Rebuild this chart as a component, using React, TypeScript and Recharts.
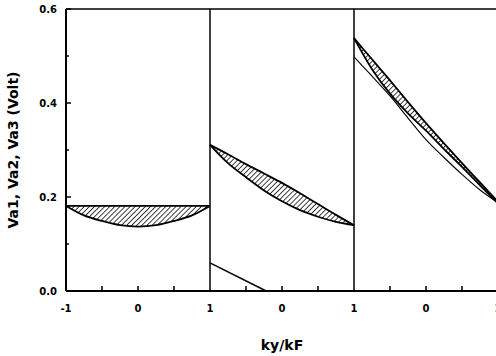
import { ComposedChart, Line, Area, XAxis, YAxis, ReferenceLine, Label } from "recharts";

// ky/kF sample points, shared by every panel
const ky = [-1, -0.75, -0.5, -0.25, 0, 0.25, 0.5, 0.75, 1];

// panel 1 (Va1)
const va1Top = [0.181, 0.181, 0.181, 0.181, 0.181, 0.181, 0.181, 0.181, 0.181];
const va1Bottom = [0.181, 0.161, 0.149, 0.14, 0.137, 0.14, 0.149, 0.161, 0.181];

// panel 2 (Va2)
const va2Top = [0.311, 0.291, 0.27, 0.25, 0.23, 0.208, 0.185, 0.162, 0.14];
const va2Bottom = [0.311, 0.272, 0.242, 0.214, 0.191, 0.172, 0.158, 0.147, 0.14];
const va2LineKy = [-1, -0.22];
const va2Line = [0.06, 0];

// panel 3 (Va3)
const va3Top = [0.538, 0.493, 0.448, 0.402, 0.357, 0.314, 0.272, 0.231, 0.19];
const va3Bottom = [0.538, 0.472, 0.42, 0.378, 0.341, 0.302, 0.264, 0.225, 0.186];
const va3Thin = [0.498, 0.457, 0.415, 0.368, 0.322, 0.284, 0.248, 0.215, 0.188];

const yTicks = [0, 0.1, 0.2, 0.3, 0.4, 0.5, 0.6];
const xTicks = [-1, -0.5, 0, 0.5, 1, 1.5, 2, 2.5, 3, 3.5, 4, 4.5, 5];
const xTickLabels: Record<string, string> = { "-1": "-1", "0": "0", "1": "1", "2": "0", "3": "1", "4": "0", "5": "1" };

// each panel spans two units on the shared x axis
const band = (lo: number[], hi: number[], offset: number) =>
  ky.map((k, i) => ({ x: k + offset, range: [lo[i], hi[i]] }));
const line = (xs: number[], vals: number[], offset: number) =>
  xs.map((k, i) => ({ x: k + offset, v: vals[i] }));

const band1 = band(va1Bottom, va1Top, 0);
const band2 = band(va2Bottom, va2Top, 2);
const band3 = band(va3Bottom, va3Top, 4);
const line2 = line(va2LineKy, va2Line, 2);
const line3 = line(ky, va3Thin, 4);

const X_MARGIN = 14;
const Y_MARGIN = 9;

function XTick({ x, y, payload }: any) {
  const v = payload.value;
  const label = xTickLabels[String(v)];
  const axisY = y - X_MARGIN;
  const border = v === -1 || v === 1 || v === 3 || v === 5;
  return (
    <g>
      {!border && <line x1={x} x2={x} y1={axisY} y2={axisY - 5} stroke="#000" strokeWidth={1.5} />}
      {label && (
        <text x={x} y={y} dy="0.71em" textAnchor="middle" fontSize={10} fontWeight="bold" fill="#000">
          {label}
        </text>
      )}
    </g>
  );
}

function YTick({ x, y, payload }: any) {
  const v = payload.value;
  const major = Math.round(v * 10) % 2 === 0;
  const axisX = x + Y_MARGIN;
  return (
    <g>
      <line x1={axisX} x2={axisX + (major ? 5 : 3)} y1={y} y2={y} stroke="#000" strokeWidth={1.5} />
      {major && (
        <text x={x} y={y} dy="0.355em" textAnchor="end" fontSize={10} fontWeight="bold" fill="#000">
          {v.toFixed(1)}
        </text>
      )}
    </g>
  );
}

export default function App() {
  return (
    <div
      style={{
        position: "fixed",
        left: 0,
        top: 0,
        width: 496,
        height: 356,
        overflow: "hidden",
        background: "#fff",
        fontFamily: "'DejaVu Sans', sans-serif",
      }}
    >
      <ComposedChart width={510} height={356} margin={{ top: 9, right: 12, bottom: 0, left: 0 }}>
        <defs>
          <pattern id="hatch" width="3.6" height="3.6" patternUnits="userSpaceOnUse" patternTransform="rotate(45)">
            <line x1="0" y1="0" x2="0" y2="3.6" stroke="#000" strokeWidth="1.5" />
          </pattern>
        </defs>
        <XAxis
          type="number"
          dataKey="x"
          domain={[-1, 5]}
          ticks={xTicks}
          interval={0}
          height={65}
          tickSize={0}
          tickMargin={X_MARGIN}
          tick={<XTick />}
          axisLine={{ stroke: "#000", strokeWidth: 2 }}
          allowDuplicatedCategory={false}
        >
          <Label
            value="ky/kF"
            position="insideBottom"
            offset={6}
            style={{ fontSize: 14, fontWeight: "bold", fill: "#000" }}
          />
        </XAxis>
        <YAxis
          type="number"
          domain={[0, 0.6]}
          ticks={yTicks}
          interval={0}
          width={66}
          tickSize={0}
          tickMargin={Y_MARGIN}
          tick={<YTick />}
          axisLine={{ stroke: "#000", strokeWidth: 2 }}
        >
          <Label
            value="Va1, Va2, Va3 (Volt)"
            angle={-90}
            position="insideLeft"
            offset={13}
            style={{ fontSize: 14, fontWeight: "bold", fill: "#000", textAnchor: "middle" }}
          />
        </YAxis>
        <ReferenceLine y={0.6} stroke="#000" strokeWidth={1.5} />
        <ReferenceLine x={1} stroke="#000" strokeWidth={1.5} />
        <ReferenceLine x={3} stroke="#000" strokeWidth={1.5} />

        <Area data={band1} dataKey="range" type="monotone" fill="url(#hatch)" fillOpacity={1} stroke="#000" strokeWidth={1.8} isAnimationActive={false} />
        <Area data={band2} dataKey="range" type="monotone" fill="url(#hatch)" fillOpacity={1} stroke="#000" strokeWidth={1.8} isAnimationActive={false} />
        <Area data={band3} dataKey="range" type="monotone" fill="url(#hatch)" fillOpacity={1} stroke="#000" strokeWidth={1.8} isAnimationActive={false} />
        <Line data={line2} dataKey="v" type="linear" stroke="#000" strokeWidth={1.5} dot={false} isAnimationActive={false} />
        <Line data={line3} dataKey="v" type="monotone" stroke="#000" strokeWidth={1.1} dot={false} isAnimationActive={false} />
      </ComposedChart>
    </div>
  );
}
